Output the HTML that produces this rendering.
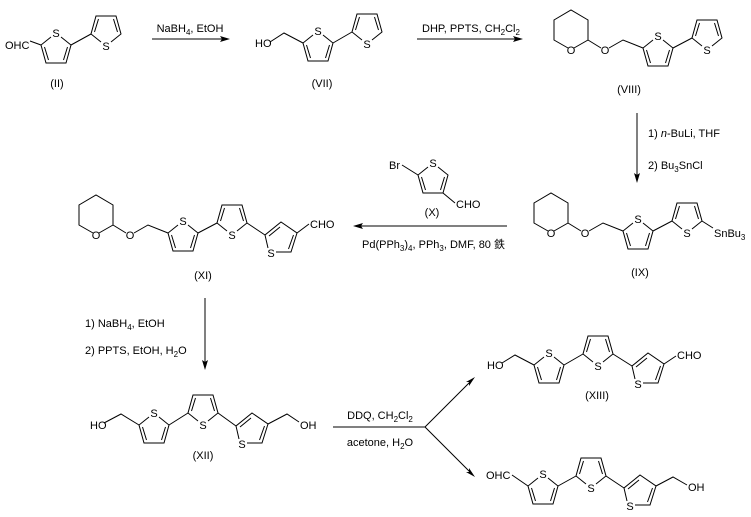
<!DOCTYPE html>
<html><head><meta charset="utf-8"><style>
html,body{margin:0;padding:0;background:#fff;}
svg{display:block;}
text{font-family:"Liberation Sans","Noto Sans CJK SC",sans-serif;font-size:11px;fill:#000;}
.sub{font-size:8px;}
</style></head><body>
<svg width="751" height="517" viewBox="0 0 751 517" xmlns="http://www.w3.org/2000/svg">
<defs>
<g id="tu"><path d="M-5,-11 L-15,-3 L-10,15 L10,15 L15,-3 L5,-11 M-11.5,-1 L-7.5,12 M11.5,-1 L7.5,12" fill="none" stroke="#000"/><text x="0" y="-11" text-anchor="middle">S</text></g>
<g id="td"><path d="M-5,11 L-15,3 L-10,-15 L10,-15 L15,3 L5,11 M-11.5,1 L-7.5,-12 M11.5,1 L7.5,-12" fill="none" stroke="#000"/><text x="0" y="19" text-anchor="middle">S</text></g>
<g id="t3"><path d="M-13,9 L-16,-4 L0,-17 L16,-6 L10,13 L-5,13 M-12,-3 L-1,-12 M12.5,-4 L7.5,10" fill="none" stroke="#000"/><text x="-10" y="18" text-anchor="middle">S</text></g>
<g id="thp"><path d="M-3,18 L-17,10 L-17,-10 L0,-20 L17,-10 L17,10 L3,18 M17,10 L30,18 M38,18 L52,10 L72,18" fill="none" stroke="#000"/><text x="0" y="24" text-anchor="middle">O</text><text x="34" y="24" text-anchor="middle">O</text></g>
</defs>
<g stroke="#000" fill="none">
<path d="M30,41 L41,45 M71,45 L91,34"/>
<path d="M152,39 L224,39"/>
<path d="M270,42 L284,33 L303,43 M333,43 L352,32"/>
<path d="M417,39 L517,39"/>
<path d="M673,48 L692,38"/>
<path d="M637,113 L637,177"/>
<path d="M653,231 L672,221 M702,221 L713,228"/>
<path d="M402,165 L418,175 M443,193 L455,203"/>
<path d="M507,226 L359,226"/>
<path d="M198,233 L217,223 M247,223 L265,235 M297,233 L309,224"/>
<path d="M205,298 L205,364"/>
<path d="M104,423 L121,414 L139,425 M169,425 L188,413 M218,413 L236,426 M268,424 L287,414 L299,422"/>
<path d="M333,427 L425,427 L471,381 M425,427 L471,473"/>
<path d="M502,363 L515,355 L534,365 M564,365 L583,354 M613,354 L632,366 M664,364 L676,356"/>
<path d="M512,475 L528,486 M558,486 L576,476 M606,476 L624,488 M656,486 L673,477 L687,485"/>
</g>
<g fill="#000">
<polygon points="230,39 220,36 222,39 220,42"/>
<polygon points="523,39 513,36 515,39 513,42"/>
<polygon points="637,183 634,173 637,175 640,173"/>
<polygon points="353,226 363,223 361,226 363,229"/>
<polygon points="205,370 202,360 205,362 208,360"/>
<polygon points="475,377 466,382 469,382 469,386"/>
<polygon points="475,477 466,472 469,472 469,468"/>
</g>
<use href="#tu" transform="translate(56,48)"/><use href="#td" transform="translate(106,31)"/>
<use href="#tu" transform="translate(318,46)"/><use href="#td" transform="translate(367,29)"/>
<use href="#thp" transform="translate(571,30)"/><use href="#tu" transform="translate(658,51)"/><use href="#td" transform="translate(707,35)"/>
<use href="#thp" transform="translate(551,213)"/><use href="#tu" transform="translate(638,234)"/><use href="#td" transform="translate(687,218)"/>
<use href="#tu" transform="translate(433,178)"/>
<use href="#thp" transform="translate(96,215)"/><use href="#tu" transform="translate(183,236)"/><use href="#td" transform="translate(232,220)"/><use href="#t3" transform="translate(281,239)"/>
<use href="#tu" transform="translate(154,428)"/><use href="#td" transform="translate(203,410)"/><use href="#t3" transform="translate(252,430)"/>
<use href="#tu" transform="translate(549,368)"/><use href="#td" transform="translate(598,351)"/><use href="#t3" transform="translate(648,370)"/>
<use href="#tu" transform="translate(543,489)"/><use href="#td" transform="translate(591,473)"/><use href="#t3" transform="translate(640,492)"/>
<text x="5" y="49">OHC</text>
<text x="57" y="87" text-anchor="middle">(II)</text>
<text x="190" y="32" text-anchor="middle">NaBH<tspan class="sub" dy="3">4</tspan><tspan dy="-3">, EtOH</tspan></text>
<text x="255" y="47">HO</text>
<text x="322" y="87" text-anchor="middle">(VII)</text>
<text x="422" y="32">DHP, PPTS, CH<tspan class="sub" dy="3">2</tspan><tspan dy="-3">Cl</tspan><tspan class="sub" dy="3">2</tspan></text>
<text x="629" y="93" text-anchor="middle">(VIII)</text>
<text x="648" y="137">1) <tspan font-style="italic">n</tspan>-BuLi, THF</text>
<text x="648" y="169">2) Bu<tspan class="sub" dy="3">3</tspan><tspan dy="-3">SnCl</tspan></text>
<text x="714" y="237">SnBu<tspan class="sub" dy="3">3</tspan></text>
<text x="640" y="276" text-anchor="middle">(IX)</text>
<text x="389" y="169">Br</text>
<text x="456" y="208">CHO</text>
<text x="432" y="216" text-anchor="middle">(X)</text>
<text x="362" y="248">Pd(PPh<tspan class="sub" dy="3">3</tspan><tspan dy="-3">)</tspan><tspan class="sub" dy="3">4</tspan><tspan dy="-3">, PPh</tspan><tspan class="sub" dy="3">3</tspan><tspan dy="-3">, DMF, 80 鉄</tspan></text>
<text x="310" y="228">CHO</text>
<text x="203" y="279" text-anchor="middle">(XI)</text>
<text x="85" y="327">1) NaBH<tspan class="sub" dy="3">4</tspan><tspan dy="-3">, EtOH</tspan></text>
<text x="85" y="354">2) PPTS, EtOH, H<tspan class="sub" dy="3">2</tspan><tspan dy="-3">O</tspan></text>
<text x="90" y="429">HO</text>
<text x="300" y="429">OH</text>
<text x="203" y="459" text-anchor="middle">(XII)</text>
<text x="380" y="419" text-anchor="middle">DDQ, CH<tspan class="sub" dy="3">2</tspan><tspan dy="-3">Cl</tspan><tspan class="sub" dy="3">2</tspan></text>
<text x="380" y="446" text-anchor="middle">acetone, H<tspan class="sub" dy="3">2</tspan><tspan dy="-3">O</tspan></text>
<text x="487" y="369">HO</text>
<text x="677" y="359">CHO</text>
<text x="597" y="399" text-anchor="middle">(XIII)</text>
<text x="486" y="479">OHC</text>
<text x="688" y="491">OH</text>
</svg>
</body></html>
